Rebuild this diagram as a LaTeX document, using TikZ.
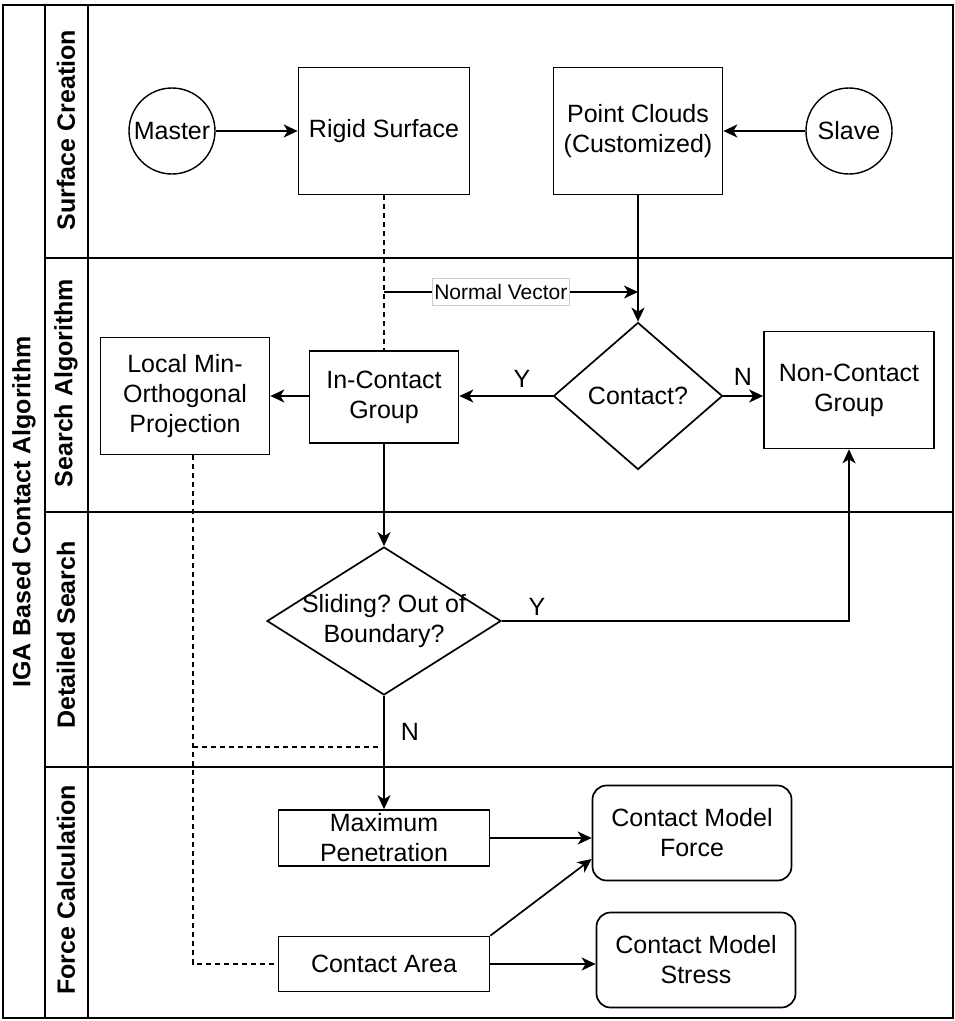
\documentclass[tikz,border=0pt]{standalone}
\usepackage{fontspec}
\setmainfont{Liberation Sans}
\usetikzlibrary{arrows.meta,shapes.geometric}
\begin{document}
\frenchspacing
\begin{tikzpicture}[x=1pt,y=-1pt,
  font=\fontsize{25}{30}\selectfont,
  every node/.style={inner sep=0pt, align=center},
  frame/.style={line width=1.8pt},
  box/.style={draw, line width=1.7pt},
  rbox/.style={draw, line width=1.7pt, rounded corners=14pt},
  circ/.style={draw, circle, line width=1.4pt, minimum size=86pt},
  diam/.style={draw, diamond, line width=1.7pt},
  arr/.style={line width=1.7pt, -{Stealth[length=14pt,width=13pt,inset=4pt]}},
  dashline/.style={line width=1.3pt, dash pattern=on 5pt off 4pt},
  lane/.style={font=\bfseries\fontsize{25}{30}\selectfont, rotate=90},
  lbl/.style={font=\fontsize{25}{30}\selectfont},
  nvlabel/.style={draw=gray!40, line width=0.8pt, fill=white, font=\fontsize{21}{25}\selectfont, inner xsep=2pt, minimum height=27pt}
]
\useasboundingbox (0,0) rectangle (955,1021);
% frame
\draw[frame] (3,5) rectangle (953,1018);
\draw[frame] (45,5) -- (45,1018);
\draw[frame] (88,5) -- (88,1018);
\draw[frame] (45,258) -- (953,258);
\draw[frame] (45,512) -- (953,512);
\draw[frame] (45,767) -- (953,767);
% titles
\node[lane] (title) at (24,512) {IGA Based Contact Algorithm};
\node[lane] (lane1) at (66,130) {Surface Creation};
\node[lane] (lane2) at (66,383) {Search Algorithm};
\node[lane] (lane3) at (66,635) {Detailed Search};
\node[lane] (lane4) at (66,890) {Force Calculation};
% nodes
\node[circ] (master) at (172,131) {Master};
\node[box, minimum width=171, minimum height=127] (rigid) at (384,131) {Rigid Surface};
\node[box, minimum width=169, minimum height=127] (pc) at (638,131) {Point Clouds\\(Customized)};
\node[circ] (slave) at (849,131) {Slave};
\node[diam, minimum width=169, minimum height=147] (contact) at (638,396) {};
\node (contacttxt) at (contact.center) {Contact?};
\node[box, minimum width=149, minimum height=92] (incontact) at (384,397) {In-Contact\\Group};
\node[box, minimum width=169, minimum height=117] (localmin) at (185,396) {Local Min-\\Orthogonal\\Projection};
\node[box, minimum width=170, minimum height=117] (noncontact) at (849,390) {Non-Contact\\Group};
\node[diam, minimum width=234, minimum height=148] (sliding) at (384,621) {};
\node (slidingtxt) at (sliding.center) {Sliding? Out of\\Boundary?};
\node[box, minimum width=211, minimum height=56] (maxpen) at (384,838) {Maximum\\Penetration};
\node[box, minimum width=211, minimum height=55] (area) at (384,964) {Contact Area};
\node[rbox, minimum width=199, minimum height=95] (force) at (692,833) {Contact Model\\Force};
\node[rbox, minimum width=199, minimum height=95] (stress) at (696,960) {Contact Model\\Stress};
% connectors
\draw[arr] (master) -- (rigid);
\draw[arr] (slave) -- (pc);
\draw[arr] (pc) -- (contact);
\draw[dashline] (rigid.south) -- (incontact.north);
\coordinate (nvA) at (384,292);
\coordinate (nvB) at (638,292);
\draw[arr] (nvA) -- node[nvlabel, pos=0.46] (nvtxt) {Normal Vector} (nvB);
\coordinate (cw) at (contact.west);
\draw[arr] (cw) -- (cw -| incontact.east);
\node[lbl, anchor=south] (ylab1) at (522,388) {Y};
\draw[arr] (incontact.west |- cw) -- (localmin.east |- cw);
\coordinate (ce) at (contact.east);
\draw[arr] (ce) -- (ce -| noncontact.west);
\node[lbl, anchor=south] (nlab1) at (743,386) {N};
\draw[arr] (incontact.south) -- (sliding.north);
\draw[arr] (sliding.east) -| (noncontact.south);
\node[lbl, anchor=south] (ylab2) at (537,616) {Y};
\draw[arr] (sliding.south) -- (maxpen.north);
\node[lbl] (nlab2) at (410,732) {N};
\coordinate (lmb) at ([xshift=8pt]localmin.south);
\draw[dashline] (lmb) |- (area.west);
\coordinate (dA) at (193,747);
\coordinate (dB) at (378,747);
\draw[dashline] (dA) -- (dB);
\draw[arr] (maxpen.east) -- (maxpen.east -| force.west);
\draw[arr] (area.north east) -- ([yshift=-26pt]force.west);
\draw[arr] (area.east) -- (area.east -| stress.west);
\end{tikzpicture}
\end{document}
